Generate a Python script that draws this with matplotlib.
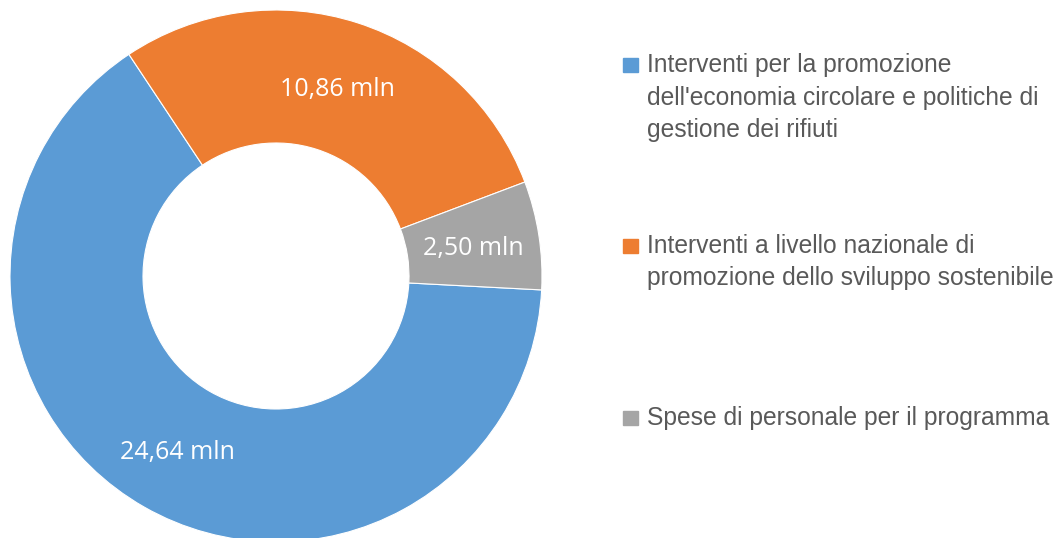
import matplotlib.pyplot as plt
from matplotlib.patches import Rectangle
import numpy as np

# values in millions
valori = [24.64, 10.86, 2.50]
etichette = ["24,64 mln", "10,86 mln", "2,50 mln"]
voci = [
    ["Interventi per la promozione", "dell'economia circolare e politiche di", "gestione dei rifiuti"],
    ["Interventi a livello nazionale di", "promozione dello sviluppo sostenibile"],
    ["Spese di personale per il programma"],
]
colori = ["#5B9BD5", "#ED7D31", "#A5A5A5"]

W, H = 1055, 538
fig = plt.figure(figsize=(W / 100, H / 100), dpi=100)

# donut: centre (276, 276) px from top, radius 266 px
cx, cy, r = 276, 276, 266
ax = fig.add_axes([(cx - r) / W, (H - cy - r) / H, 2 * r / W, 2 * r / H])
wedges, _ = ax.pie(valori, colors=colori, startangle=-3, counterclock=False,
                   radius=1, wedgeprops=dict(width=0.5, edgecolor="white", linewidth=0.8))
ax.set_xlim(-1, 1)
ax.set_ylim(-1, 1)
ax.set_aspect("equal")
ax.axis("off")

# data labels, placed on the middle of the ring
for w, lab in zip(wedges, etichette):
    ang = np.deg2rad((w.theta1 + w.theta2) / 2)
    ax.text(0.75 * np.cos(ang), 0.75 * np.sin(ang) - 0.012, lab, ha="center", va="center",
            color="white", fontsize=18, family="Open Sans")

# legend on the right
y_start = [72, 253, 425]
for lines, col, y0 in zip(voci, colori, y_start):
    fig.patches.append(Rectangle((623 / W, (H - y0) / H), 15 / W, 14 / H,
                                 transform=fig.transFigure, color=col))
    for i, line in enumerate(lines):
        fig.text(647 / W, (H - y0 - i * 32.5) / H, line, ha="left", va="baseline",
                 fontsize=17.7, color="#595959", family="Liberation Sans")

fig.savefig("out.png", dpi=100)
